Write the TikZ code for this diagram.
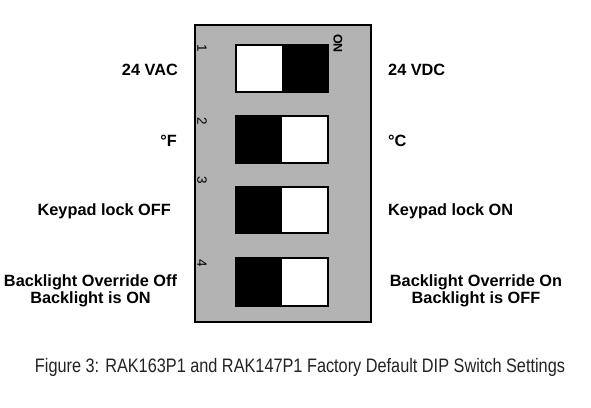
\documentclass[tikz,border=0pt]{standalone}
\usepackage{fontspec}
\setmainfont{Liberation Sans}
\definecolor{panelgray}{RGB}{179,179,179}
\definecolor{captxt}{RGB}{35,35,35}
\begin{document}
\begin{tikzpicture}[x=1pt,y=-1pt,
  panel/.style={draw=black,line width=1.4pt,fill=panelgray},
  swbox/.style={draw=black,line width=1.2pt},
  lbl/.style={font=\fontsize{16.3}{17}\selectfont\bfseries,inner sep=0pt,align=center},
  num/.style={font=\fontsize{13.5}{14}\selectfont,rotate=-90,inner sep=0pt},
  onlbl/.style={font=\fontsize{12.5}{13}\selectfont\bfseries,rotate=-90,inner sep=0pt}]
\useasboundingbox (0,0) rectangle (591,407);
% panel
\node[panel,minimum width=176pt,minimum height=297pt,inner sep=0pt] (panel) at (283,173.5) {};
% switches
\foreach \i/\yt/\yb/\onr in {1/45/92/1,2/116/163/0,3/187/233/0,4/258/306/0}{
  \ifnum\onr=1
    \fill[black] (282,\yt) rectangle (328,\yb);
    \fill[white] (236,\yt) rectangle (282,\yb);
  \else
    \fill[black] (236,\yt) rectangle (282,\yb);
    \fill[white] (282,\yt) rectangle (328,\yb);
  \fi
  \node[swbox,minimum width=92pt,minimum height={(\yb-\yt)*1pt},inner sep=0pt] (sw\i) at (282,{(\yt+\yb)/2}) {};
}
% numbers
\node[num] (n1) at (202,48) {1};
\node[num] (n2) at (202,121) {2};
\node[num] (n3) at (202,180) {3};
\node[num] (n4) at (202,263) {4};
\node[onlbl] (on) at (338,43.5) {ON};
% left labels
\node[lbl,anchor=east] (l1) at (178,70) {24 VAC};
\node[lbl,anchor=east] (l2) at (177,141) {°F};
\node[lbl,anchor=east] (l3) at (171,211) {Keypad lock OFF};
\node[lbl] (l4) at (90.5,291) {Backlight Override Off\\Backlight is ON};
% right labels
\node[lbl,anchor=west] (r1) at (388,70) {24 VDC};
\node[lbl,anchor=west] (r2) at (388,141) {°C};
\node[lbl,anchor=west] (r3) at (388,211) {Keypad lock ON};
\node[lbl] (r4) at (476,291) {Backlight Override On\\Backlight is OFF};
% caption
\node[inner sep=0pt,text=captxt] (cap) at (300,367) {\resizebox{530pt}{\height}{\fontsize{19.5}{22}\selectfont Figure 3: RAK163P1 and RAK147P1 Factory Default DIP Switch Settings}};
\end{tikzpicture}
\end{document}
